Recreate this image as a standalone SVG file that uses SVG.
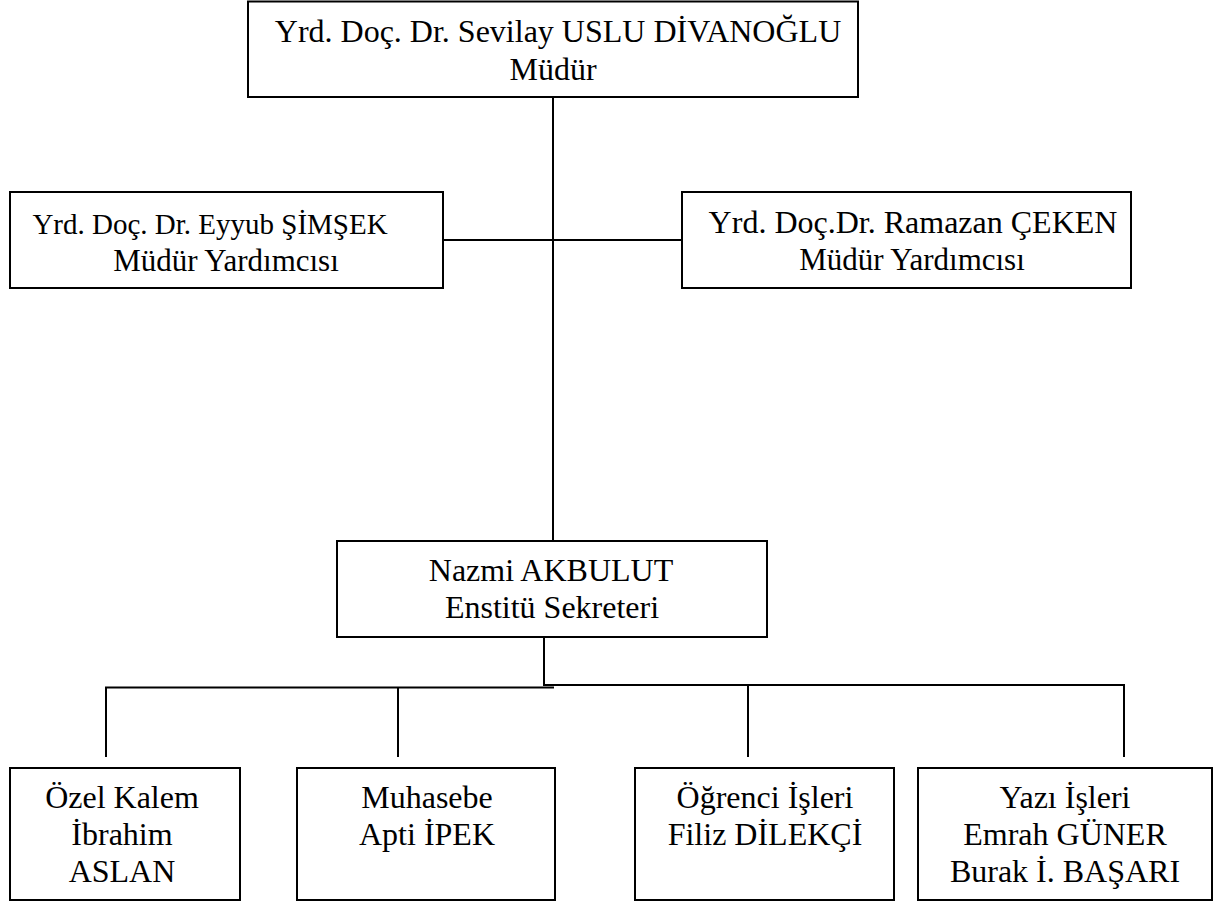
<svg xmlns="http://www.w3.org/2000/svg" width="1216" height="903" viewBox="0 0 1216 903">
<style>
.box{fill:#fff;stroke:#000;stroke-width:2}
.t{font-family:"Liberation Serif","Times New Roman",serif;font-size:32px;fill:#000;text-anchor:middle}
.c{fill:none;stroke:#000;stroke-width:2}
</style>
<rect x="0" y="0" width="1216" height="903" fill="#fff"/>
<g id="connectors">
<path class="c" d="M553 97V541"/>
<path class="c" d="M443 240H682"/>
<path class="c" d="M544 637V685H1124V757"/>
<path class="c" d="M554 687.5H106V757"/>
<path class="c" d="M398 687V757"/>
<path class="c" d="M748 685V757"/>
</g>
<g id="mudur">
<rect class="box" x="248" y="1.5" width="610" height="95.5"/>
<text class="t" x="558" y="42">Yrd. Doç. Dr. Sevilay USLU DİVANOĞLU</text>
<text class="t" x="553" y="80">Müdür</text>
</g>
<g id="yardimci1">
<rect class="box" x="10" y="192" width="433" height="96"/>
<text class="t" x="210" y="234" style="font-size:29px">Yrd. Doç. Dr. Eyyub ŞİMŞEK</text>
<text class="t" x="226" y="271" style="font-size:31px">Müdür Yardımcısı</text>
</g>
<g id="yardimci2">
<rect class="box" x="682" y="192" width="449" height="96"/>
<text class="t" x="913" y="233">Yrd. Doç.Dr. Ramazan ÇEKEN</text>
<text class="t" x="912" y="270" style="font-size:31px">Müdür Yardımcısı</text>
</g>
<g id="sekreter">
<rect class="box" x="337" y="541" width="430" height="96"/>
<text class="t" x="551" y="581">Nazmi AKBULUT</text>
<text class="t" x="552" y="618">Enstitü Sekreteri</text>
</g>
<g id="ozelkalem">
<rect class="box" x="10" y="768" width="230" height="132"/>
<text class="t" x="122" y="808">Özel Kalem</text>
<text class="t" x="122" y="845">İbrahim</text>
<text class="t" x="122" y="882">ASLAN</text>
</g>
<g id="muhasebe">
<rect class="box" x="297" y="768" width="258" height="132"/>
<text class="t" x="427" y="808">Muhasebe</text>
<text class="t" x="427" y="845">Apti İPEK</text>
</g>
<g id="ogrenci">
<rect class="box" x="635" y="768" width="259" height="132"/>
<text class="t" x="765" y="808">Öğrenci İşleri</text>
<text class="t" x="765" y="845">Filiz DİLEKÇİ</text>
</g>
<g id="yazi">
<rect class="box" x="918" y="768" width="294" height="132"/>
<text class="t" x="1065" y="808">Yazı İşleri</text>
<text class="t" x="1065" y="845">Emrah GÜNER</text>
<text class="t" x="1065" y="882">Burak İ. BAŞARI</text>
</g>
</svg>
